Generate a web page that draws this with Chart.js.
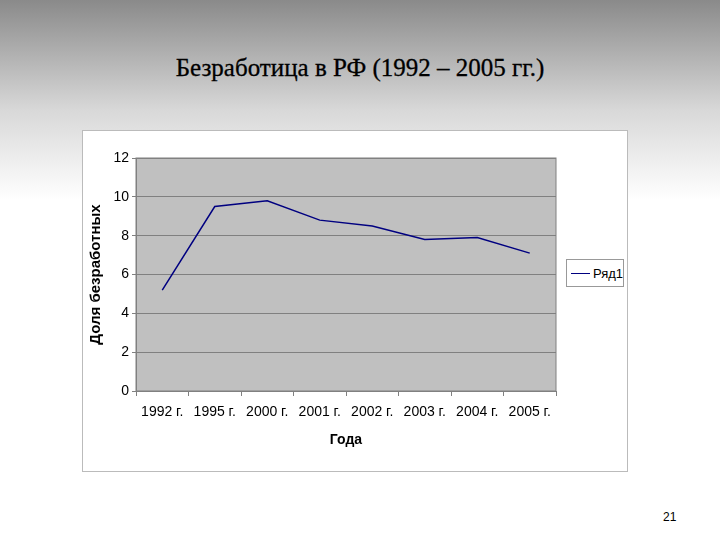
<!DOCTYPE html>
<html><head><meta charset="utf-8">
<script src="https://cdn.jsdelivr.net/npm/chart.js@4"></script>
<style>
body{margin:0;width:720px;height:540px;overflow:hidden;background:linear-gradient(#8a8a8a 0px,#d8d8d8 110px,#fff 200px,#fff 540px);position:relative;font-family:"Liberation Sans",Arial,sans-serif}
#t{position:absolute;left:0;width:720px;top:54px;text-align:center;font-family:"Liberation Serif","Times New Roman",serif;font-size:25px;color:#000;-webkit-text-stroke:0.3px #000}
#box{position:absolute;left:82px;top:130px;width:546px;height:342px;background:#fff;border:1px solid #bbb;box-sizing:border-box}
#lg{position:absolute;left:566px;top:259px;width:58px;height:28px;border:1px solid #999;background:#fff;box-sizing:border-box;font-size:13px;font-family:"Liberation Sans Narrow","Liberation Sans",Arial;display:flex;align-items:center}
#lg span.l{display:inline-block;width:22px;height:0;border-top:1.5px solid #000080;margin:0 3px 0 4px}
#pn{position:absolute;left:663px;top:510px;font-size:12px}
</style></head><body>
<div id="t">Безработица в РФ (1992 – 2005 гг.)</div>
<div id="box"><canvas id="c" width="546" height="342"></canvas></div>
<div id="lg"><span class="l"></span>Ряд1</div>
<div id="pn">21</div>
<script>
const categories=["1992 г.","1995 г.","2000 г.","2001 г.","2002 г.","2003 г.","2004 г.","2005 г."];
const values=[5.2,9.5,9.8,8.8,8.5,7.8,7.9,7.1];
const nf='"Liberation Sans Narrow","Liberation Sans",Arial';
const bg={id:'bg',beforeDraw(c){const a=c.chartArea,x=c.ctx;x.save();x.fillStyle='#c0c0c0';x.fillRect(a.left,a.top,a.width,a.height);x.strokeStyle='#808080';x.strokeRect(a.left,a.top,a.width,a.height);x.restore();}};
new Chart(document.getElementById('c'),{type:'line',
data:{labels:categories,datasets:[{label:'Ряд1',data:values,borderColor:'#000080',borderWidth:1.5,pointRadius:0,tension:0,fill:false}]},
options:{responsive:false,animation:false,layout:{padding:{top:27,right:73,left:0,bottom:20}},
plugins:{legend:{display:false},tooltip:{enabled:false}},
scales:{
x:{offset:true,afterFit(s){s.height=62;},grid:{offset:true,drawOnChartArea:false,color:'#808080',tickLength:5},border:{color:'#808080'},
ticks:{color:'#000',font:{size:14,family:nf},maxRotation:0,padding:8},
title:{display:true,text:'Года',color:'#000',font:{size:14,weight:'bold',family:nf},padding:{top:6}}},
y:{min:0,max:12,afterFit(s){s.width=53;},ticks:{stepSize:2,color:'#000',font:{size:14,family:nf}},
grid:{color:'#808080',tickLength:4},border:{color:'#808080'},
title:{display:true,text:'Доля безработных',color:'#000',font:{size:15,weight:'bold'},padding:{bottom:0}}}}},
plugins:[bg]});
</script></body></html>
